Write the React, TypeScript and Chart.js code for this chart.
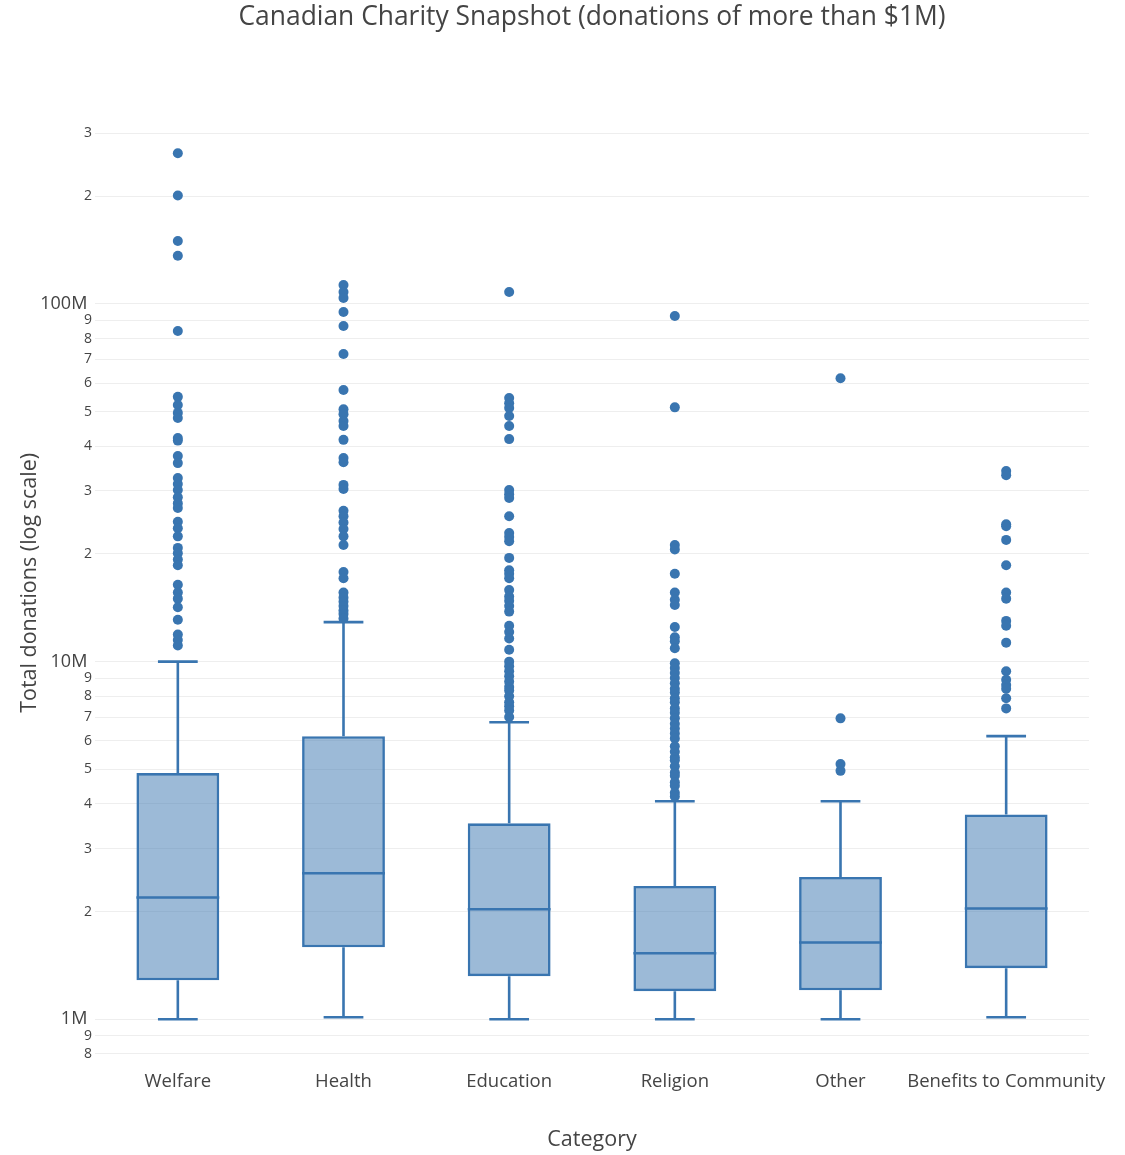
import React, { useEffect, useRef } from 'react';
import { Chart, registerables } from 'chart.js';

Chart.register(...registerables);

// Values in millions of dollars
const categories = ['Welfare', 'Health', 'Education', 'Religion', 'Other', 'Benefits to Community'];
const lowerFence = [1.0, 1.013, 1.0, 1.0, 1.0, 1.013];
const q1 = [1.285, 1.59, 1.32, 1.198, 1.205, 1.39];
const median = [2.19, 2.56, 2.03, 1.53, 1.64, 2.04];
const q3 = [4.88, 6.19, 3.53, 2.36, 2.5, 3.74];
const upperFence = [10.0, 12.9, 6.77, 4.07, 4.07, 6.19];

const welfareOutliers = [264, 201, 150, 136.5, 84, 55, 52.2, 49.6, 48, 42.2, 41.5, 37.6, 35.9, 32.6, 31.4, 30.2, 28.8, 27.7, 26.9, 24.6, 23.6, 22.4, 20.8, 20.1, 19.3, 18.6, 16.4, 15.6, 15.0, 14.2, 13.1, 11.9, 11.5, 11.1];
const healthOutliers = [113, 108, 104, 95, 86.8, 72.5, 57.5, 50.8, 49.2, 47.1, 45.6, 41.7, 37.1, 36.1, 31.2, 30.4, 26.4, 25.5, 24.5, 23.5, 22.4, 21.2, 17.8, 17.1, 15.6, 15.1, 14.7, 14.3, 13.9, 13.6, 13.2];
const educationOutliers = [108, 54.6, 52.8, 51.2, 48.6, 45.6, 41.9, 30.2, 29.4, 28.7, 25.5, 22.9, 22.3, 21.7, 19.5, 18.0, 17.6, 17.1, 15.85, 15.2, 14.8, 14.3, 13.8, 12.6, 12.1, 11.6, 10.8, 10.0, 9.7, 9.4, 9.1, 8.8, 8.5, 8.3, 8.0, 7.7, 7.5, 7.3, 7.0];
const religionOutliers = [92.6, 51.4, 21.2, 20.6, 17.6, 15.6, 14.9, 14.4, 12.5, 11.7, 11.4, 10.9, 9.9, 9.6, 9.3, 9.0, 8.7, 8.4, 8.2, 7.9, 7.7, 7.4, 7.2, 6.95, 6.7, 6.5, 6.3, 6.1, 5.8, 5.6, 5.4, 5.3, 5.1, 4.9, 4.8, 4.6, 4.5, 4.3, 4.2];
const otherOutliers = [62, 6.94, 5.17, 4.95];
const communityOutliers = [34.1, 33.2, 24.2, 23.9, 21.9, 18.6, 15.6, 15.0, 13.0, 12.6, 11.3, 9.4, 8.9, 8.6, 8.4, 7.9, 7.4];
const outliers = [welfareOutliers, healthOutliers, educationOutliers, religionOutliers, otherOutliers, communityOutliers];

const yTickValues = [0.8, 0.9, 1, 2, 3, 4, 5, 6, 7, 8, 9, 10, 20, 30, 40, 50, 60, 70, 80, 90, 100, 200, 300];
const decadeTicks = [1, 10, 100];

const COLOR = 'rgb(57,117,176)';
const FILL = 'rgba(57,117,176,0.5)';
const TEXT = '#444';
const FONT = "'Open Sans', sans-serif";

const boxPlugin = {
  id: 'boxWhiskers',
  afterDatasetDraw(chart: any, args: any) {
    if (args.index !== 0) return;
    const { ctx } = chart;
    const x = chart.scales.x;
    const y = chart.scales.y;
    const catW = x.getPixelForValue(1) - x.getPixelForValue(0);
    const boxHalf = catW * 0.25;
    const capHalf = catW * 0.12;
    ctx.save();
    ctx.strokeStyle = COLOR;
    ctx.lineWidth = 2.6;
    ctx.lineCap = 'butt';
    categories.forEach((_, i) => {
      const cx = x.getPixelForValue(i);
      const yLo = y.getPixelForValue(lowerFence[i]);
      const yQ1 = y.getPixelForValue(q1[i]);
      const yMed = y.getPixelForValue(median[i]);
      const yQ3 = y.getPixelForValue(q3[i]);
      const yHi = y.getPixelForValue(upperFence[i]);
      ctx.beginPath();
      ctx.moveTo(cx, yQ3);
      ctx.lineTo(cx, yHi);
      ctx.moveTo(cx - capHalf, yHi);
      ctx.lineTo(cx + capHalf, yHi);
      ctx.moveTo(cx, yQ1);
      ctx.lineTo(cx, yLo);
      ctx.moveTo(cx - capHalf, yLo);
      ctx.lineTo(cx + capHalf, yLo);
      ctx.moveTo(cx - boxHalf, yMed);
      ctx.lineTo(cx + boxHalf, yMed);
      ctx.stroke();
    });
    ctx.restore();
  },
};

export default function App() {
  const ref = useRef<HTMLCanvasElement>(null);
  useEffect(() => {
    if (!ref.current) return;
    Chart.defaults.font.family = FONT;
    Chart.defaults.color = TEXT;
    const points = categories.flatMap((c, i) => outliers[i].map((v) => ({ x: c, y: v })));
    const chart = new Chart(ref.current, {
      type: 'bar',
      data: {
        labels: categories,
        datasets: [
          {
            type: 'bar',
            data: categories.map((_, i) => [q1[i], q3[i]]) as any,
            backgroundColor: FILL,
            borderColor: COLOR,
            borderWidth: 2.6,
            borderSkipped: false,
            categoryPercentage: 1,
            barPercentage: 0.5,
            order: 2,
          } as any,
          {
            type: 'line',
            data: points as any,
            showLine: false,
            pointRadius: 5,
            pointBackgroundColor: COLOR,
            pointBorderWidth: 0,
            order: 1,
          } as any,
        ],
      },
      options: {
        responsive: false,
        animation: false,
        layout: { padding: { left: 0, right: 36, top: 0, bottom: 0 } },
        plugins: {
          legend: { display: false },
          tooltip: { enabled: false },
          title: {
            display: true,
            text: 'Canadian Charity Snapshot (donations of more than $1M)',
            fullSize: false,
            color: TEXT,
            font: { size: 26.4, family: FONT, weight: 'normal' },
            padding: { top: 2, bottom: 67.1 },
          },
        },
        scales: {
          x: {
            type: 'category',
            offset: true,
            grid: { display: false, drawTicks: false },
            border: { display: false },
            ticks: {
              color: TEXT,
              font: { size: 18.5, family: FONT },
              padding: 6,
              maxRotation: 0,
              minRotation: 0,
              autoSkip: false,
            },
            title: {
              display: true,
              text: 'Category',
              color: TEXT,
              font: { size: 21.5, family: FONT },
              padding: { top: 0, bottom: 2 },
            },
            afterFit: (s: any) => {
              s.height = 90;
            },
          },
          y: {
            type: 'logarithmic',
            min: 0.745,
            max: 370,
            bounds: 'data',
            grid: { color: '#eeeeee', lineWidth: 1, drawTicks: false },
            border: { display: false },
            afterBuildTicks: (s: any) => {
              s.ticks = yTickValues.map((v) => ({ value: v }));
            },
            ticks: {
              color: TEXT,
              padding: 3,
              autoSkip: false,
              font: (c: any) => ({
                size: c.tick && decadeTicks.includes(c.tick.value) ? 18 : 14,
                family: FONT,
              }),
              callback: (v: any) => {
                const val = Number(v);
                if (decadeTicks.includes(val)) return val + 'M ';
                const p = Math.pow(10, Math.floor(Math.log10(val) + 1e-9));
                return String(Math.round(val / p));
              },
            },
            title: {
              display: true,
              text: 'Total donations (log scale)',
              color: TEXT,
              font: { size: 21.5, family: FONT },
              padding: { top: 17, bottom: 0 },
            },
            afterFit: (s: any) => {
              s.width = 95;
            },
          },
        },
      } as any,
      plugins: [boxPlugin],
    });
    return () => chart.destroy();
  }, []);
  return (
    <canvas
      ref={ref}
      width={1125}
      height={1155}
      style={{ display: 'block', position: 'absolute', left: 0, top: 0 }}
    />
  );
}
